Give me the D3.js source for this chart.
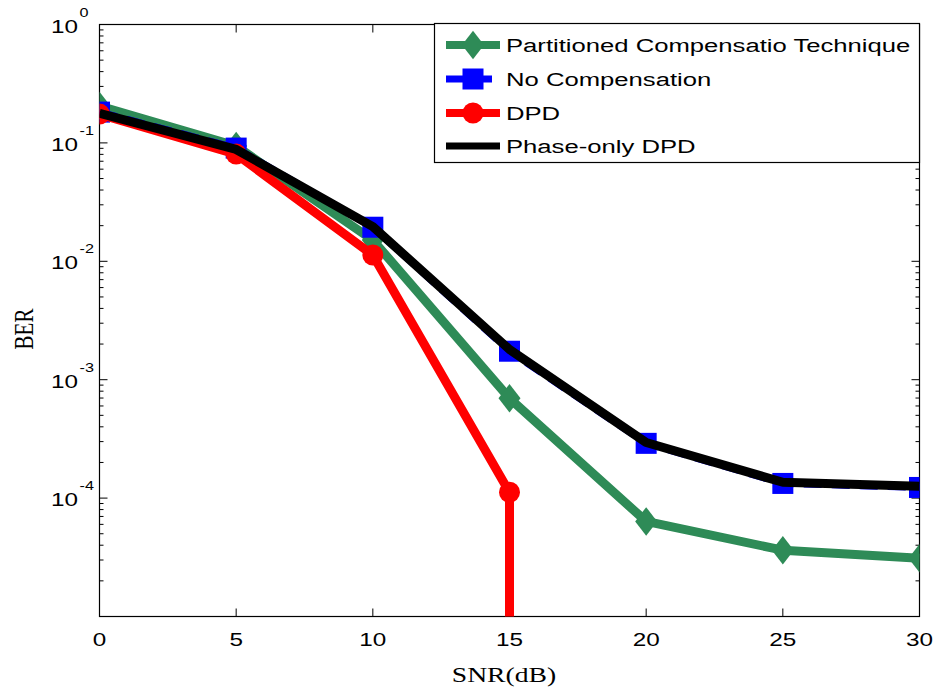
<!DOCTYPE html>
<html><head><meta charset="utf-8">
<script src="https://cdn.jsdelivr.net/npm/d3@7"></script>
<style>body{margin:0;background:#fff}svg{display:block}</style>
</head><body>
<svg id="c" width="936" height="687"></svg>
<script>
const snr = [0, 5, 10, 15, 20, 25, 30];
const partitioned = [0.205, 0.094, 0.0151, 6.97e-4, 6.35e-5, 3.63e-5, 3.1e-5];
const noComp = [0.182, 0.0904, 0.0194, 1.74e-3, 2.9e-4, 1.33e-4, 1.23e-4];
const phaseOnly = [0.178, 0.0880, 0.0196, 1.80e-3, 2.95e-4, 1.36e-4, 1.26e-4];
const dpdX = [0, 5, 10, 15, 15];
const dpdY = [0.175, 0.0804, 0.0113, 1.12e-4, 1e-7];
const dpdMarkers = 4;
const xTicks = [0, 5, 10, 15, 20, 25, 30];
const yDecades = [0, -1, -2, -3, -4];
const legendLabels = ["Partitioned Compensatio Technique", "No Compensation", "DPD", "Phase-only DPD"];

const svg = d3.select("#c");
const L = 99.5, R = 919.5, T = 24.5, B = 616.5;
const SX = 1.35; // horizontal stretch of the text in the reference
const x = d3.scaleLinear().domain([0, 30]).range([L, R]);
const y = d3.scaleLog().domain([1e-5, 1]).range([B, T]);

function txt(parent, px, py, s, opts) {
  const t = parent.append("text")
    .attr("transform", `translate(${px},${py}) scale(${SX},1)` + (opts.rot ? ` rotate(${opts.rot})` : ""))
    .attr("font-family", opts.family).attr("font-size", opts.size)
    .attr("text-anchor", opts.anchor || "start").attr("fill", "#000").text(s);
  return t;
}

svg.append("clipPath").attr("id", "clip").append("rect")
  .attr("x", L).attr("y", T).attr("width", R - L).attr("height", B - T);

// axes box
svg.append("rect").attr("x", L).attr("y", T).attr("width", R - L).attr("height", B - T)
  .attr("fill", "none").attr("stroke", "#000").attr("stroke-width", 1.2);

// ticks
const g = svg.append("g").attr("stroke", "#000").attr("stroke-width", 1);
xTicks.forEach(t => {
  g.append("line").attr("x1", x(t)).attr("x2", x(t)).attr("y1", B).attr("y2", B - 8);
  g.append("line").attr("x1", x(t)).attr("x2", x(t)).attr("y1", T).attr("y2", T + 8);
});
for (let e = -5; e <= 0; e++) {
  const v = Math.pow(10, e);
  g.append("line").attr("x1", L).attr("x2", L + 8).attr("y1", y(v)).attr("y2", y(v));
  g.append("line").attr("x1", R).attr("x2", R - 8).attr("y1", y(v)).attr("y2", y(v));
  if (e < 0) {
    for (let k = 2; k <= 9; k++) {
      const m = k * v;
      g.append("line").attr("x1", L).attr("x2", L + 4).attr("y1", y(m)).attr("y2", y(m));
      g.append("line").attr("x1", R).attr("x2", R - 4).attr("y1", y(m)).attr("y2", y(m));
    }
  }
}

// tick labels
const font = "'Liberation Sans', Arial, sans-serif";
const serif = "'Liberation Serif', 'Times New Roman', serif";
xTicks.forEach(t => txt(svg, x(t), B + 29, t, {family: font, size: 18, anchor: "middle"}));
yDecades.forEach(e => {
  const yy = y(Math.pow(10, e));
  txt(svg, 78, yy + 8, "10", {family: font, size: 18, anchor: "end"});
  txt(svg, 79.5, yy - 8, e, {family: font, size: 12});
});

// axis labels
txt(svg, 504, 682, "SNR(dB)", {family: serif, size: 20.5, anchor: "middle"});
txt(svg, 33, 329, "BER", {family: serif, size: 21, anchor: "middle", rot: -90});

const plot = svg.append("g").attr("clip-path", "url(#clip)");
const line = d3.line().x(d => x(d[0])).y(d => y(d[1]));
const green = "#2e8b57", blue = "#0000ff", red = "#ff0000", black = "#000000";
const diamond = (cx, cy, s) => `M${cx},${cy - s * 1.3}L${cx + s},${cy}L${cx},${cy + s * 1.3}L${cx - s},${cy}Z`;

// green
plot.append("path").datum(snr.map((s, i) => [s, partitioned[i]])).attr("d", line)
  .attr("fill", "none").attr("stroke", green).attr("stroke-width", 9).attr("stroke-linejoin", "round");
snr.forEach((s, i) => plot.append("path").attr("d", diamond(x(s), y(partitioned[i]), 11)).attr("fill", green));

// blue
plot.append("path").datum(snr.map((s, i) => [s, noComp[i]])).attr("d", line)
  .attr("fill", "none").attr("stroke", blue).attr("stroke-width", 7).attr("stroke-dasharray", "18,10");
snr.forEach((s, i) => plot.append("rect").attr("x", x(s) - 10.5).attr("y", y(noComp[i]) - 10.5)
  .attr("width", 21).attr("height", 21).attr("fill", blue));

// red
plot.append("path").datum(dpdX.map((s, i) => [s, dpdY[i]])).attr("d", line)
  .attr("fill", "none").attr("stroke", red).attr("stroke-width", 9).attr("stroke-linejoin", "round");
dpdX.slice(0, dpdMarkers).forEach((s, i) => plot.append("circle").attr("cx", x(s)).attr("cy", y(dpdY[i]))
  .attr("r", 10.5).attr("fill", red));

// black
plot.append("path").datum(snr.map((s, i) => [s, phaseOnly[i]])).attr("d", line)
  .attr("fill", "none").attr("stroke", black).attr("stroke-width", 9).attr("stroke-linejoin", "round");

// legend
const lg = svg.append("g");
lg.append("rect").attr("x", 434.5).attr("y", 23.5).attr("width", 485).attr("height", 139)
  .attr("fill", "#fff").attr("stroke", "#000").attr("stroke-width", 1.2);
const ly = [45, 79, 113, 146];
const lx1 = 446, lx2 = 500, lxm = 473;
lg.append("line").attr("x1", lx1).attr("x2", lx2).attr("y1", ly[0]).attr("y2", ly[0]).attr("stroke", green).attr("stroke-width", 8);
lg.append("path").attr("d", diamond(lxm, ly[0], 11)).attr("fill", green);
lg.append("line").attr("x1", lx1).attr("x2", lx2).attr("y1", ly[1]).attr("y2", ly[1]).attr("stroke", blue).attr("stroke-width", 7).attr("stroke-dasharray", "18,10");
lg.append("rect").attr("x", lxm - 10.5).attr("y", ly[1] - 10.5).attr("width", 21).attr("height", 21).attr("fill", blue);
lg.append("line").attr("x1", lx1).attr("x2", lx2).attr("y1", ly[2]).attr("y2", ly[2]).attr("stroke", red).attr("stroke-width", 8);
lg.append("circle").attr("cx", lxm).attr("cy", ly[2]).attr("r", 10.5).attr("fill", red);
lg.append("line").attr("x1", lx1).attr("x2", lx2).attr("y1", ly[3]).attr("y2", ly[3]).attr("stroke", black).attr("stroke-width", 7);
legendLabels.forEach((t, i) => txt(lg, 506, ly[i] + 7, t, {family: font, size: 19}));
</script>
</body></html>
